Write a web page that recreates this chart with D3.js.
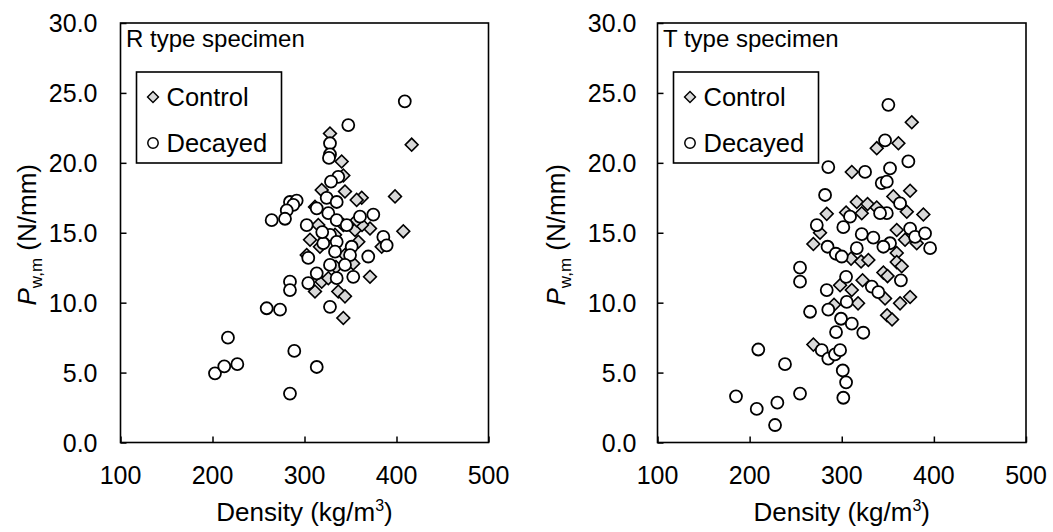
<!DOCTYPE html>
<html>
<head>
<meta charset="utf-8">
<script src="https://cdn.jsdelivr.net/npm/d3@7"></script>
<style>
  body { margin: 0; background: #fff; }
  .chart-svg { display: block; font-family: "Liberation Sans", Arial, sans-serif; }
</style>
</head>
<body>
<div class="wrapper"></div>
<script>
var svg,
  wrapper,
  xScale,
  yScale;

var dimensions = { width: 1053, height: 532 };

// Axis setup
var xDomain = [100, 500];
var yDomain = [0, 30];
var xTicks = [100, 200, 300, 400, 500];
var yTicks = [0, 5, 10, 15, 20, 25, 30];
var panelTitles = ["R type specimen", "T type specimen"];
var seriesLabels = ["Control", "Decayed"];

// R type specimen, control
var rControlDensity = [327.7, 340.4, 342.2, 416.5, 398.4, 407.4, 318.7, 344.0, 362.2, 356.7,
  371.2, 315.0, 311.4, 354.9, 358.5, 342.2, 302.4, 316.8, 353.0, 371.2,
  383.9, 318.7, 311.4, 336.7, 344.0, 342.2, 325.9, 333.2, 344.0, 362.5,
  306.0, 334.2, 356.7];
var rControlLoad = [22.1, 20.1, 19.1, 21.3, 17.6, 15.1, 18.05, 17.95, 17.5, 17.35,
  15.3, 15.55, 16.85, 15.2, 14.35, 15.55, 13.4, 14.0, 12.8, 11.85,
  14.0, 11.5, 10.8, 10.8, 10.45, 8.9, 11.75, 14.85, 13.4, 15.55,
  14.5, 12.55, 15.9];

// R type specimen, decayed
var rDecayedDensity = [409.0, 347.6, 327.7, 327.7, 326.6, 336.7, 328.8, 284.2, 291.5, 287.8,
  280.7, 264.3, 278.8, 302.4, 324.1, 335.0, 325.9, 335.0, 345.9, 360.3,
  374.8, 313.3, 327.7, 320.4, 335.0, 351.3, 385.7, 389.3, 369.3, 349.5,
  333.2, 304.1, 327.7, 313.3, 335.0, 353.0, 304.1, 284.2, 284.2, 258.9,
  273.4, 327.7, 216.8, 202.7, 212.8, 227.0, 288.9, 313.3, 284.2, 319.3,
  344.0];
var rDecayedLoad = [24.4, 22.7, 21.4, 20.6, 20.35, 19.0, 18.65, 17.2, 17.3, 17.0,
  16.6, 15.9, 16.0, 15.55, 17.5, 17.2, 16.4, 15.9, 15.55, 16.15,
  16.3, 16.75, 14.85, 14.25, 14.35, 14.0, 14.7, 14.1, 13.3, 13.4,
  13.65, 13.2, 12.7, 12.1, 11.75, 11.85, 11.4, 11.5, 10.9, 9.6,
  9.5, 9.7, 7.5, 4.95, 5.45, 5.6, 6.55, 5.4, 3.5, 15.05,
  12.7];

// T type specimen, control
var tControlDensity = [376.0, 338.0, 361.5, 310.9, 374.2, 356.0, 316.3, 328.0, 338.0, 370.6,
  388.6, 283.7, 304.7, 321.7, 276.4, 269.2, 359.7, 368.7, 381.4, 359.7,
  310.1, 321.0, 328.9, 359.7, 365.1, 345.2, 349.7, 322.6, 298.2, 310.9,
  347.0, 363.3, 374.2, 317.7, 291.6, 349.2, 354.6, 269.2];
var tControlLoad = [22.9, 21.05, 21.4, 19.35, 18.0, 17.6, 17.2, 17.05, 16.8, 16.5,
  16.3, 16.35, 16.45, 16.4, 15.0, 14.2, 15.2, 14.5, 14.25, 13.55,
  13.15, 12.95, 13.05, 12.9, 12.6, 12.15, 11.9, 11.6, 11.25, 10.9,
  10.3, 9.95, 10.4, 9.95, 9.85, 9.1, 8.8, 7.0];

// T type specimen, decayed
var tDecayedDensity = [350.6, 347.0, 372.3, 352.4, 343.4, 348.9, 285.4, 325.3, 281.9, 363.3,
  348.9, 341.6, 309.0, 272.9, 301.7, 321.7, 334.3, 352.4, 345.2, 374.2,
  379.6, 390.4, 395.9, 284.6, 293.6, 300.0, 316.3, 254.7, 254.7, 304.7,
  283.7, 332.6, 339.7, 364.2, 265.6, 285.4, 305.4, 299.2, 310.9, 293.8,
  323.4, 209.4, 238.4, 278.3, 285.4, 292.7, 298.2, 301.1, 304.7, 301.7,
  185.2, 207.7, 230.1, 254.7, 227.6];
var tDecayedLoad = [24.15, 21.6, 20.1, 19.6, 18.55, 18.65, 19.7, 19.35, 17.7, 17.1,
  16.4, 16.4, 16.15, 15.55, 15.4, 14.9, 14.65, 14.25, 14.0, 15.3,
  14.7, 14.95, 13.9, 14.0, 13.5, 13.3, 13.9, 12.5, 11.5, 11.85,
  10.9, 11.15, 10.75, 11.6, 9.35, 9.5, 10.05, 8.85, 8.5, 7.9,
  7.85, 6.65, 5.6, 6.6, 6.0, 6.3, 6.6, 5.15, 4.3, 3.2,
  3.3, 2.4, 2.85, 3.5, 1.25];

// Panel layout (pixel positions only)
var panels = [
  { left: 120.5, right: 488.5, tickLabelGap: 23, titleX: 36,
    title: panelTitles[0],
    control: [rControlDensity, rControlLoad],
    decayed: [rDecayedDensity, rDecayedLoad] },
  { left: 657.5, right: 1026, tickLabelGap: 21, titleX: 565,
    title: panelTitles[1],
    control: [tControlDensity, tControlLoad],
    decayed: [tDecayedDensity, tDecayedLoad] }
];
var plotTop = 23;
var plotBottom = 442.5;
var tickFont = 25;
var titleFont = 26;

function zip(pair) {
  return pair[0].map((d, i) => ({ x: d, y: pair[1][i] }));
}

/**
 * Builds the svg and draws both panels.
 */
function initChart() {
  wrapper = d3.select(".wrapper");
  svg = wrapper.append("svg")
    .classed("chart-svg", true)
    .attr("width", dimensions.width)
    .attr("height", dimensions.height);

  yScale = d3.scaleLinear().domain(yDomain).range([plotBottom, plotTop]);

  panels.forEach(panel => drawPanel(panel));
}

/**
 * Draws one scatter panel: frame, axes, points, legend and labels.
 */
function drawPanel(panel) {
  var x = d3.scaleLinear().domain(xDomain).range([panel.left, panel.right]);
  var g = svg.append("g").classed("panel", true);

  // Points, control first so the decayed circles sit on top
  var diamond = d3.symbol().type(d3.symbolSquare).size(82);
  g.append("g").selectAll("path")
    .data(zip(panel.control))
    .join("path")
    .attr("d", diamond)
    .attr("transform", d => `translate(${x(d.x)},${yScale(d.y)}) rotate(45)`)
    .attr("fill", "#d9d9d9")
    .attr("stroke", "#000")
    .attr("stroke-width", 1.6);

  g.append("g").selectAll("circle")
    .data(zip(panel.decayed))
    .join("circle")
    .attr("cx", d => x(d.x))
    .attr("cy", d => yScale(d.y))
    .attr("r", 6)
    .attr("fill", "#fff")
    .attr("stroke", "#000")
    .attr("stroke-width", 1.8);

  // Axes with inward ticks
  var xAxis = g.append("g")
    .attr("transform", `translate(0,${plotBottom})`)
    .call(d3.axisTop(x).tickValues(xTicks).tickSize(6).tickFormat(""));
  var yAxis = g.append("g")
    .attr("transform", `translate(${panel.left},0)`)
    .call(d3.axisRight(yScale).tickValues(yTicks).tickSize(6).tickFormat(""));
  [xAxis, yAxis].forEach(a => {
    a.select(".domain").remove();
    a.selectAll("line").attr("stroke", "#000").attr("stroke-width", 1.5);
  });

  // Frame
  g.append("rect")
    .attr("x", panel.left)
    .attr("y", plotTop)
    .attr("width", panel.right - panel.left)
    .attr("height", plotBottom - plotTop)
    .attr("fill", "none")
    .attr("stroke", "#000")
    .attr("stroke-width", 1.6);

  // Tick labels
  g.append("g").selectAll("text")
    .data(xTicks)
    .join("text")
    .attr("x", d => x(d))
    .attr("y", 484)
    .attr("text-anchor", "middle")
    .attr("font-size", tickFont)
    .text(d => d);

  g.append("g").selectAll("text")
    .data(yTicks)
    .join("text")
    .attr("x", panel.left - panel.tickLabelGap)
    .attr("y", d => yScale(d))
    .attr("dy", "0.36em")
    .attr("text-anchor", "end")
    .attr("font-size", tickFont)
    .text(d => d3.format(".1f")(d));

  // Axis titles
  var xTitle = g.append("text")
    .attr("x", (panel.left + panel.right) / 2)
    .attr("y", 521)
    .attr("text-anchor", "middle")
    .attr("font-size", titleFont);
  xTitle.append("tspan").text("Density (kg/m");
  xTitle.append("tspan").attr("font-size", 16).attr("dy", -10).text("3");
  xTitle.append("tspan").attr("dy", 10).text(")");

  var yTitle = g.append("text")
    .attr("transform", `translate(${panel.titleX},${(plotTop + plotBottom) / 2 + 2}) rotate(-90)`)
    .attr("text-anchor", "middle")
    .attr("font-size", titleFont);
  yTitle.append("tspan").attr("font-style", "italic").text("P");
  yTitle.append("tspan").attr("font-size", 17).attr("dy", 6).text("w,m");
  yTitle.append("tspan").attr("dy", -6).text(" (N/mm)");

  // Panel title
  g.append("text")
    .attr("x", panel.left + 5.5)
    .attr("y", 47)
    .attr("font-size", 24)
    .text(panel.title);

  // Legend
  var lg = g.append("g").attr("transform", `translate(${panel.left + 16},72)`);
  lg.append("rect")
    .attr("width", 145)
    .attr("height", 91)
    .attr("fill", "#fff")
    .attr("stroke", "#000")
    .attr("stroke-width", 1.6);
  var legendDiamond = d3.symbol().type(d3.symbolSquare).size(60);
  lg.append("path")
    .attr("d", legendDiamond)
    .attr("transform", "translate(16.5,25) rotate(45)")
    .attr("fill", "#d9d9d9")
    .attr("stroke", "#000")
    .attr("stroke-width", 1.4);
  lg.append("circle")
    .attr("cx", 16.5)
    .attr("cy", 71)
    .attr("r", 5.2)
    .attr("fill", "#fff")
    .attr("stroke", "#000")
    .attr("stroke-width", 1.5);
  lg.selectAll(".legend-label")
    .data(seriesLabels)
    .join("text")
    .classed("legend-label", true)
    .attr("x", 30)
    .attr("y", (d, i) => 34 + i * 46)
    .attr("font-size", 25.5)
    .text(d => d);
}

initChart();
</script>
</body>
</html>
